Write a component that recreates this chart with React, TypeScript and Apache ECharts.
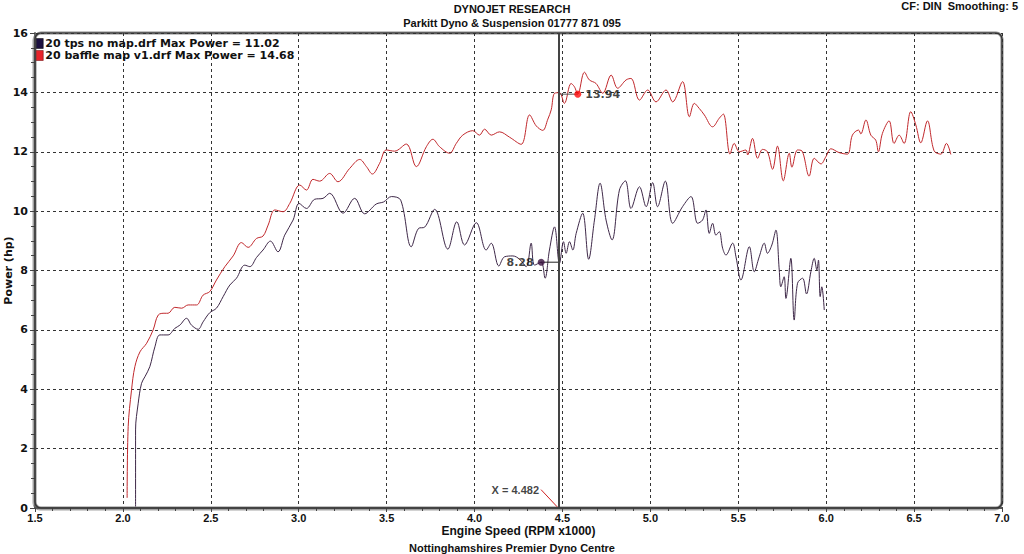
import React, { useEffect, useRef } from "react";
import * as echarts from "echarts";

const titleMain = "DYNOJET RESEARCH";
const titleSub = "Parkitt Dyno & Suspension 01777 871 095";
const cornerNote = "CF: DIN  Smoothing: 5";
const footer = "Nottinghamshires Premier Dyno Centre";
const xName = "Engine Speed (RPM x1000)";
const yName = "Power (hp)";

const tpsName = "20 tps no map.drf Max Power = 11.02";
const baffleName = "20 baffle map v1.drf Max Power = 14.68";

// RPM x1000 , hp
const baffleRpm = [
  2.024, 2.03, 2.049, 2.068, 2.097, 2.135, 2.172, 2.201, 2.239, 2.257, 2.295, 2.334, 2.371, 2.419, 2.456, 2.494,
  2.532, 2.58, 2.627, 2.674, 2.712, 2.76, 2.797, 2.826, 2.864, 2.911, 2.949, 3.006, 3.044, 3.081, 3.119, 3.176,
  3.223, 3.29, 3.347, 3.385, 3.419, 3.46, 3.498, 3.545, 3.612, 3.669, 3.726, 3.763, 3.801, 3.858, 3.896, 3.933,
  3.99, 4.028, 4.057, 4.095, 4.142, 4.199, 4.265, 4.313, 4.351, 4.388, 4.417, 4.436, 4.455, 4.483, 4.511, 4.549,
  4.568, 4.587, 4.625, 4.653, 4.691, 4.729, 4.777, 4.814, 4.862, 4.89, 4.938, 4.985, 5.032, 5.089, 5.127, 5.183,
  5.222, 5.25, 5.278, 5.307, 5.354, 5.392, 5.415, 5.453, 5.477, 5.506, 5.544, 5.553, 5.581, 5.61, 5.638, 5.666,
  5.695, 5.723, 5.756, 5.79, 5.805, 5.837, 5.862, 5.903, 5.932, 5.97, 5.998, 6.027, 6.074, 6.121, 6.149, 6.184,
  6.197, 6.226, 6.254, 6.282, 6.297, 6.32, 6.358, 6.386, 6.415, 6.443, 6.481, 6.51, 6.538, 6.576, 6.614, 6.652,
  6.684, 6.709,
];
const baffleHp = [
  0.34, 2.74, 3.97, 4.76, 5.26, 5.55, 6.0, 6.5, 6.56, 6.56, 6.76, 6.73, 6.84, 6.84, 7.17, 7.29,
  7.68, 8.13, 8.49, 8.94, 8.78, 9.08, 9.16, 9.53, 10.04, 9.98, 10.26, 10.88, 10.71, 11.07, 11.01, 11.27,
  10.99, 11.44, 11.74, 11.5, 11.25, 11.61, 12.06, 12.02, 12.26, 11.5, 12.17, 12.42, 12.17, 11.95, 12.28, 12.56,
  12.71, 12.56, 12.76, 12.56, 12.67, 12.49, 12.25, 13.24, 12.87, 12.72, 13.1, 13.41, 13.97, 13.99, 13.63, 14.3,
  14.19, 13.94, 14.68, 14.42, 14.3, 13.97, 14.58, 14.14, 14.42, 14.47, 13.74, 14.08, 13.68, 14.08, 13.68, 14.36,
  13.18, 13.63, 13.46, 13.24, 12.84, 13.13, 13.27, 11.92, 12.28, 12.0, 12.06, 11.89, 12.45, 11.78, 12.08, 12.0,
  11.41, 12.19, 11.02, 11.95, 11.48, 12.06, 12.03, 11.18, 11.78, 11.59, 11.83, 12.1, 11.97, 11.92, 12.56, 12.73,
  12.6, 13.07, 12.56, 12.39, 12.0, 12.62, 13.04, 12.28, 12.56, 12.28, 13.35, 12.9, 12.3, 13.04, 12.03, 11.92,
  12.28, 11.91,
];

const tpsRpm = [
  2.072, 2.072, 2.087, 2.106, 2.125, 2.153, 2.182, 2.21, 2.257, 2.295, 2.324, 2.362, 2.39, 2.428, 2.456, 2.494,
  2.532, 2.57, 2.608, 2.646, 2.693, 2.722, 2.76, 2.797, 2.839, 2.882, 2.92, 2.968, 3.002, 3.044, 3.091, 3.138,
  3.176, 3.252, 3.318, 3.375, 3.441, 3.483, 3.527, 3.58, 3.64, 3.682, 3.716, 3.773, 3.848, 3.899, 3.943, 4.01,
  4.066, 4.095, 4.138, 4.17, 4.218, 4.256, 4.294, 4.322, 4.341, 4.379, 4.401, 4.426, 4.455, 4.483, 4.506, 4.521,
  4.54, 4.559, 4.578, 4.615, 4.649, 4.682, 4.714, 4.748, 4.782, 4.824, 4.858, 4.89, 4.938, 4.976, 5.013, 5.041,
  5.085, 5.127, 5.183, 5.231, 5.269, 5.297, 5.316, 5.335, 5.354, 5.373, 5.392, 5.411, 5.43, 5.468, 5.487, 5.515,
  5.563, 5.591, 5.619, 5.648, 5.666, 5.691, 5.714, 5.733, 5.742, 5.761, 5.771, 5.799, 5.818, 5.837, 5.866, 5.888,
  5.913, 5.932, 5.947, 5.956, 5.966, 5.975, 5.989,
];
const tpsHp = [
  0.05, 2.63, 3.53, 4.2, 4.42, 4.76, 5.43, 5.83, 5.83, 6.05, 6.16, 6.39, 6.16, 6.02, 6.27, 6.58,
  6.73, 7.12, 7.51, 7.74, 8.18, 8.13, 8.44, 8.69, 8.99, 8.63, 9.19, 9.7, 10.26, 10.09, 10.4, 10.43,
  10.6, 9.93, 10.43, 9.91, 10.24, 10.31, 10.49, 10.37, 8.8, 9.42, 9.46, 10.06, 8.72, 9.64, 8.86, 9.61,
  8.69, 8.92, 8.15, 8.46, 8.49, 8.38, 8.13, 8.92, 8.18, 8.28, 7.74, 8.69, 9.47, 8.24, 8.97, 8.58,
  8.97, 8.69, 9.25, 9.93, 8.38, 9.7, 10.94, 9.7, 9.03, 10.71, 11.02, 10.09, 10.82, 10.15, 10.96, 10.15,
  11.01, 9.59, 10.15, 10.49, 9.59, 9.7, 10.04, 9.25, 9.59, 9.19, 9.31, 8.75, 8.52, 8.92, 8.46, 7.68,
  8.8, 7.96, 8.46, 8.92, 8.58, 8.86, 9.36, 8.02, 7.45, 7.79, 7.06, 8.41, 6.33, 7.57, 7.74, 7.21,
  7.96, 8.41, 8.02, 8.35, 7.12, 7.45, 6.67,
];

const cursorX = 4.482;
const cursorText = "X = 4.482";
const baffleCursor = [4.587, 13.94];
const tpsCursor = [4.379, 8.28];
const leaderLine = [
  [4.378, 0.62],
  [4.47, 0.04],
];

const xMin = 1.5;
const xMax = 7.0;
const yMin = 0;
const yMax = 16;

const RED = "#c0282c";
const DARK = "#3e2848";
const FONT_B = "Liberation Sans";
const FONT_V = "DejaVu Sans";

export default function App() {
  const ref = useRef<HTMLDivElement>(null);

  useEffect(() => {
    if (!ref.current) return;
    const chart = echarts.init(ref.current, undefined, { renderer: "svg" });

    const baffleData = baffleRpm.map((x, i) => [x, baffleHp[i]]);
    const tpsData = tpsRpm.map((x, i) => [x, tpsHp[i]]);

    const gl = 35, gt = 33, gr = 22, gb = 46;
    const gw = 1024 - gl - gr;
    const gh = 554 - gt - gb;

    const headStyle = { fontFamily: FONT_B, fontSize: 11, fontWeight: "bold", color: "#111" };

    chart.setOption({
      animation: false,
      backgroundColor: "#ffffff",
      title: [
        { text: titleMain, left: "center", top: 3, padding: 0, textStyle: headStyle },
        { text: titleSub, left: "center", top: 17, padding: 0, textStyle: headStyle },
        { text: cornerNote, right: 6, top: 0, padding: 0, textStyle: headStyle },
        { text: footer, left: "center", top: 542, padding: 0, textStyle: headStyle },
      ],
      legend: {
        orient: "vertical",
        left: 36,
        top: 38,
        padding: 0,
        itemGap: 1,
        itemWidth: 7,
        itemHeight: 10,
        icon: "rect",
        textStyle: { fontFamily: FONT_V, fontSize: 11, fontWeight: "bold", color: "#111", padding: [0, 0, 0, -3] },
        data: [
          { name: tpsName, itemStyle: { color: "#1c1040", borderColor: "#000", borderWidth: 0.5 } },
          { name: baffleName, itemStyle: { color: "#e8232a", borderColor: "#600", borderWidth: 0.5 } },
        ],
      },
      grid: { left: gl, right: gr, top: gt, bottom: gb, outerBoundsMode: "none", containLabel: false },
      xAxis: {
        type: "value",
        min: xMin,
        max: xMax,
        interval: 0.5,
        name: xName,
        nameLocation: "middle",
        nameGap: 17,
        nameMoveOverlap: false,
        nameTextStyle: { fontFamily: FONT_B, fontSize: 12, fontWeight: "bold", color: "#111", verticalAlign: "top" },
        axisLine: { show: true, lineStyle: { color: "#555", width: 2 } },
        axisTick: { show: true, length: 4, lineStyle: { color: "#444" } },
        minorTick: { show: true, splitNumber: 5, length: 3, lineStyle: { color: "#444" } },
        axisLabel: {
          margin: 4,
          fontFamily: FONT_B,
          fontSize: 11,
          fontWeight: "bold",
          color: "#111",
          formatter: (v: number) => v.toFixed(1),
        },
        splitLine: { show: true, lineStyle: { color: "#333", type: [3, 3], width: 1 } },
      },
      yAxis: {
        type: "value",
        min: yMin,
        max: yMax,
        interval: 2,
        name: yName,
        nameLocation: "middle",
        nameGap: 21,
        nameMoveOverlap: false,
        nameTextStyle: { fontFamily: FONT_V, fontSize: 11, fontWeight: "bold", color: "#111" },
        axisLine: { show: true, lineStyle: { color: "#666", width: 2 } },
        axisTick: { show: true, length: 5, lineStyle: { color: "#444" } },
        minorTick: { show: true, splitNumber: 4, length: 4, lineStyle: { color: "#444" } },
        axisLabel: { margin: 7, fontFamily: FONT_V, fontSize: 11, fontWeight: "bold", color: "#111" },
        splitLine: { show: true, lineStyle: { color: "#333", type: [3, 3], width: 1 } },
      },
      graphic: [
        {
          type: "rect",
          z: -5,
          silent: true,
          shape: { x: gl, y: gt, width: gw, height: gh, r: 6 },
          style: { fill: "#fff", stroke: "#888", lineWidth: 3, shadowColor: "rgba(0,0,0,0.35)", shadowOffsetX: -1, shadowOffsetY: 1, shadowBlur: 1 },
        },
        {
          type: "rect",
          z: 50,
          silent: true,
          shape: { x: gl, y: gt, width: gw, height: gh, r: 6 },
          style: { fill: "none", stroke: "#333", lineWidth: 1.2 },
        },
      ],
      series: [
        {
          name: tpsName,
          type: "line",
          data: tpsData,
          showSymbol: false,
          smooth: 0.35,
          lineStyle: { color: DARK, width: 1 },
          itemStyle: { color: DARK },
          z: 3,
          markLine: {
            silent: true,
            symbol: "none",
            label: { show: false },
            lineStyle: { color: "#444", width: 2, type: "solid" },
            data: [{ xAxis: cursorX }],
          },
        },
        {
          name: baffleName,
          type: "line",
          data: baffleData,
          showSymbol: false,
          smooth: 0.35,
          lineStyle: { color: RED, width: 1 },
          itemStyle: { color: RED },
          z: 3,
        },
        {
          name: "baffleLink",
          type: "line",
          data: [[cursorX, baffleCursor[1]], baffleCursor],
          showSymbol: false,
          lineStyle: { color: "#555", width: 1 },
          z: 4,
        },
        {
          name: "tpsLink",
          type: "line",
          data: [tpsCursor, [cursorX, tpsCursor[1]]],
          showSymbol: false,
          lineStyle: { color: "#222", width: 1 },
          z: 4,
        },
        {
          name: "leader",
          type: "line",
          data: leaderLine,
          showSymbol: false,
          lineStyle: { color: "#d02020", width: 1 },
          z: 4,
        },
        {
          name: "leaderText",
          type: "scatter",
          data: [{ value: leaderLine[0], label: { show: true, position: "left", formatter: cursorText } }],
          symbolSize: 0,
          label: { distance: 2, fontFamily: FONT_B, fontSize: 11, fontWeight: "bold", color: "#111" },
          z: 5,
        },
        {
          name: "baffleMarker",
          type: "scatter",
          data: [baffleCursor],
          symbol: "circle",
          symbolSize: 7,
          itemStyle: { color: "#ff0a0a" },
          label: {
            show: true,
            position: "right",
            distance: 4,
            formatter: (p: any) => p.value[1].toFixed(2),
            fontFamily: FONT_V,
            fontSize: 11,
            fontWeight: "bold",
            color: "#111",
          },
          z: 6,
        },
        {
          name: "tpsMarker",
          type: "scatter",
          data: [tpsCursor],
          symbol: "circle",
          symbolSize: 7,
          itemStyle: { color: "#3a1040" },
          label: {
            show: true,
            position: "left",
            distance: 4,
            formatter: (p: any) => p.value[1].toFixed(2),
            fontFamily: FONT_V,
            fontSize: 11,
            fontWeight: "bold",
            color: "#111",
          },
          z: 6,
        },
      ],
    });

    return () => chart.dispose();
  }, []);

  return (
    <div
      ref={ref}
      style={{ position: "fixed", left: 0, top: 0, width: 1024, height: 554, background: "#fff" }}
    />
  );
}
